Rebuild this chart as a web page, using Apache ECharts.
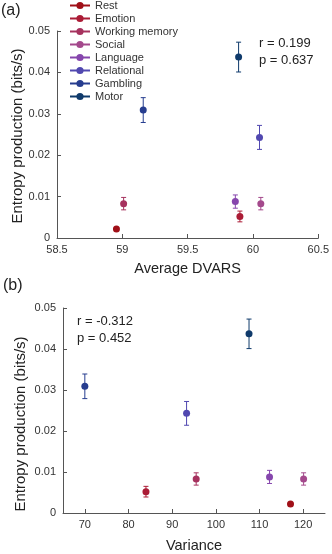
<!DOCTYPE html>
<html>
<head>
<meta charset="utf-8">
<script src="https://cdn.jsdelivr.net/npm/echarts@6/dist/echarts.min.js"></script>
<style>
	html, body { margin: 0; padding: 0; background: #fff; }
	#chart { width: 332px; height: 554px; }
</style>
</head>
<body>
<div id="chart"></div>
<script>
const tasks = ["Rest", "Emotion", "Working memory", "Social", "Language", "Relational", "Gambling", "Motor"];
const entropy = [0.0022, 0.0052, 0.0083, 0.0083, 0.0088, 0.0243, 0.0309, 0.0437];
const entropyErr = [0.0004, 0.0013, 0.0015, 0.0015, 0.0016, 0.0029, 0.0030, 0.0036];
const dvars = [58.955, 59.9, 59.01, 60.06, 59.865, 60.05, 59.16, 59.89];
const variance = [117.1, 84.0, 95.5, 120.1, 112.3, 93.3, 70.0, 107.6];
const varianceTicks = [70, 80, 90, 100, 110, 120];
const colors = ["#a01018", "#ab1c36", "#a6325e", "#a4498c", "#8646ad", "#5148b0", "#263d8f", "#0f3a6b"];

const font = "'Liberation Sans', Arial, Helvetica, sans-serif";
const chart = echarts.init(document.getElementById("chart"), null, { renderer: "canvas" });

const errorBars = (xs, gridIdx) => ({
	type       : "custom",
	xAxisIndex : gridIdx,
	yAxisIndex : gridIdx,
	silent     : true,
	z          : 1,
	data       : xs.map((x, i) => [x, entropy[i] - entropyErr[i], entropy[i] + entropyErr[i], i]),
	renderItem : (params, api) => {
		const lo = api.coord([api.value(0), api.value(1)]);
		const hi = api.coord([api.value(0), api.value(2)]);
		const c = colors[api.value(3)];
		const style = { stroke: c, lineWidth: 1 };
		return {
			type     : "group",
			children : [
				{ type: "line", shape: { x1: lo[0], y1: lo[1], x2: hi[0], y2: hi[1] }, style },
				{ type: "line", shape: { x1: lo[0] - 2.5, y1: lo[1], x2: lo[0] + 2.5, y2: lo[1] }, style },
				{ type: "line", shape: { x1: hi[0] - 2.5, y1: hi[1], x2: hi[0] + 2.5, y2: hi[1] }, style },
			],
		};
	},
});

const pointSeries = (xs, gridIdx) => tasks.map((name, i) => ({
	name,
	type       : "line",
	xAxisIndex : gridIdx,
	yAxisIndex : gridIdx,
	symbol     : "circle",
	symbolSize : 7,
	z          : 3,
	itemStyle  : { color: colors[i] },
	lineStyle  : { color: colors[i], width: 1.8 },
	data       : [[xs[i], entropy[i]]],
}));

const axisCommon = {
	axisLine  : { lineStyle: { color: "#555", width: 1 } },
	axisTick  : { inside: true, length: 4, lineStyle: { color: "#555" } },
	axisLabel : { color: "#333", fontSize: 11, fontFamily: font },
	splitLine : { show: false },
};

const yAxisFor = (gridIndex) => ({
	...axisCommon,
	gridIndex,
	type      : "value",
	min       : 0,
	max       : 0.05,
	interval  : 0.01,
	axisLabel : { ...axisCommon.axisLabel, margin: 7 },
});

chart.setOption({
	animation : false,
	color     : colors,
	grid      : [
		{ left: 57, top: 31, width: 262, height: 207 },
		{ left: 63, top: 308, width: 262, height: 206 },
	],
	legend: {
		data      : tasks,
		orient    : "vertical",
		left      : 64,
		top       : -5,
		itemWidth : 20,
		itemHeight: 9,
		itemGap   : 2,
		textStyle : { fontSize: 11, color: "#333", fontFamily: font },
	},
	xAxis: [
		{
			...axisCommon,
			gridIndex : 0,
			type      : "value",
			min       : 58.5,
			max       : 60.5,
			interval  : 0.5,
			axisLabel : { ...axisCommon.axisLabel, margin: 6 },
			name      : "Average DVARS",
			nameLocation  : "middle",
			nameGap       : 23,
			nameTextStyle : { fontSize: 14.5, color: "#222", fontFamily: font },
		},
		{
			...axisCommon,
			gridIndex : 1,
			type      : "value",
			min       : 65,
			max       : 125,
			axisTick  : { ...axisCommon.axisTick, customValues: varianceTicks },
			axisLabel : { ...axisCommon.axisLabel, margin: 6, customValues: varianceTicks },
			name      : "Variance",
			nameLocation  : "middle",
			nameGap       : 25,
			nameTextStyle : { fontSize: 14.5, color: "#222", fontFamily: font },
		},
	],
	yAxis  : [yAxisFor(0), yAxisFor(1)],
	series : [
		errorBars(dvars, 0),
		...pointSeries(dvars, 0),
		errorBars(variance, 1),
		...pointSeries(variance, 1),
	],
	graphic: [
		{ type: "text", left: 1, top: 3, style: { text: "(a)", fontSize: 16, fill: "#222", fontFamily: font } },
		{ type: "text", left: 3, top: 278, style: { text: "(b)", fontSize: 16, fill: "#222", fontFamily: font } },
		{
			type     : "text",
			x        : 18,
			y        : 136,
			rotation : Math.PI / 2,
			style    : { text: "Entropy production (bits/s)", fontSize: 15, fill: "#222", fontFamily: font, align: "center", verticalAlign: "middle" },
		},
		{
			type     : "text",
			x        : 21,
			y        : 424,
			rotation : Math.PI / 2,
			style    : { text: "Entropy production (bits/s)", fontSize: 15, fill: "#222", fontFamily: font, align: "center", verticalAlign: "middle" },
		},
		{ type: "text", left: 259, top: 35, style: { text: "r = 0.199\np = 0.637", fontSize: 13, lineHeight: 17, fill: "#222", fontFamily: font } },
		{ type: "text", left: 77, top: 313, style: { text: "r = -0.312\np = 0.452", fontSize: 13, lineHeight: 17, fill: "#222", fontFamily: font } },
	],
});
</script>
</body>
</html>
